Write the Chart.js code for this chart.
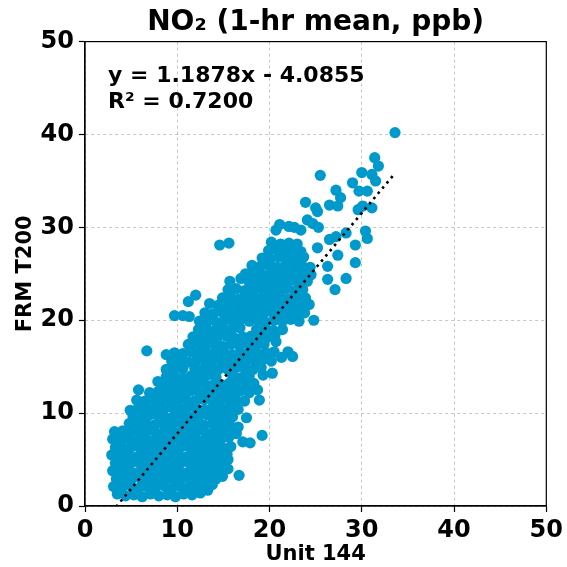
<!DOCTYPE html>
<html>
<head>
<meta charset="utf-8">
<script src="https://cdn.jsdelivr.net/npm/chart.js@4.4.0/dist/chart.umd.min.js"></script>
<style>
  html, body { margin: 0; padding: 0; background: #fff; }
  #wrap { width: 567px; height: 567px; }
</style>
</head>
<body>
<div id="wrap"><canvas id="no2Chart" width="567" height="567"></canvas></div>
<script>
// Punkte [Unit 144, FRM T200] in ppb, nach Bereichen gruppiert
const lowBand = [
  [3.5,1.3],[4.4,1.1],[5.3,1.2],[6.2,1.0],[7.1,1.3],[8.0,1.1],[8.9,1.2],[9.8,1.0],[10.7,1.3],[11.6,1.2],[12.5,1.4],[13.3,1.7],
  [3.1,2.1],[4.0,2.0],[4.9,2.2],[5.8,1.9],[6.7,2.1],[7.6,2.0],[8.5,2.2],[9.4,1.9],[10.3,2.1],[11.2,2.0],[12.1,2.2],[13.0,2.0],[13.8,2.3],
  [3.4,2.9],[4.3,2.8],[5.2,3.0],[6.1,2.9],[7.0,2.8],[7.9,3.0],[8.8,2.9],[9.7,2.8],[10.6,3.0],[11.5,2.9],[12.4,2.8],[13.3,3.0],[14.2,2.9],[14.9,3.2],[16.7,3.3],
  [3.0,3.8],[3.9,3.7],[4.8,3.8],[5.7,3.6],[6.6,3.8],[7.5,3.7],[8.4,3.9],[9.3,3.7],[10.2,3.8],[11.1,3.6],[12.0,3.8],[12.9,3.7],[13.8,3.9],[14.7,3.8],[15.5,4.0],
  [3.3,4.6],[4.2,4.5],[5.1,4.7],[6.0,4.6],[6.9,4.5],[7.8,4.7],[8.7,4.6],[9.6,4.5],[10.5,4.7],[11.4,4.6],[12.3,4.5],[13.2,4.7],[14.1,4.6],[15.0,4.5],[15.5,5.0],
  [2.9,5.5],[3.8,5.4],[4.7,5.5],[5.6,5.3],[6.5,5.5],[7.4,5.4],[8.3,5.6],[9.2,5.4],[10.1,5.5],[11.0,5.3],[11.9,5.5],[12.8,5.4],[13.7,5.6],[14.6,5.4],[15.4,5.6],
  [3.3,6.3],[4.2,6.2],[5.1,6.4],[6.0,6.3],[6.9,6.2],[7.8,6.4],[8.7,6.3],[9.6,6.2],[10.5,6.4],[11.4,6.3],[12.3,6.2],[13.2,6.4],[14.1,6.3],[15.0,6.2],[15.8,6.4],[17.1,6.9],[17.9,6.8],
  [3.0,7.2],[3.9,7.1],[4.8,7.2],[5.7,7.0],[6.6,7.2],[7.5,7.1],[8.4,7.3],[9.3,7.1],[10.2,7.2],[11.1,7.0],[12.0,7.2],[12.9,7.1],[13.8,7.3],[14.7,7.1],[15.6,7.4],[16.4,7.8],[19.2,7.6],
  [3.2,8.0],[4.1,8.1],[5.0,7.9],[5.9,8.0],[6.8,8.1],[7.7,7.9],[8.6,8.0],[9.5,8.1],[10.4,7.9],[11.3,8.0],[12.2,8.1],[13.1,7.9],[14.0,8.0],[14.9,8.1],[15.8,8.3],[16.6,8.5],
  [4.8,8.9],[5.7,8.8],[6.6,8.9],[7.5,8.7],[8.4,8.9],[9.3,8.8],[10.2,9.0],[11.1,8.8],[12.0,8.9],[12.9,8.7],[13.8,8.9],[14.7,8.8],[15.6,9.0]
];

const midBand = [
  [5.2,9.7],[6.1,9.6],[7.0,9.8],[7.9,9.7],[8.8,9.5],[9.7,9.7],[10.6,9.8],[11.5,9.6],[12.4,9.7],[13.3,9.8],[14.2,9.6],[15.1,9.7],[16.0,9.6],[17.5,9.5],
  [4.9,10.3],[5.8,10.6],[6.7,10.5],[7.6,10.6],[8.5,10.4],[9.4,10.6],[10.3,10.5],[11.2,10.7],[12.1,10.5],[13.0,10.4],[13.9,10.6],[14.8,10.5],[15.7,10.6],[16.6,10.4],
  [5.6,11.4],[6.5,11.3],[7.4,11.5],[8.3,11.4],[9.2,11.3],[10.1,11.5],[11.0,11.4],[11.9,11.3],[12.8,11.5],[13.7,11.4],[14.6,11.3],[15.5,11.5],[16.4,11.4],[17.3,11.3],[18.9,11.4],
  [5.8,12.5],[7.0,12.2],[7.9,12.3],[8.8,12.1],[9.7,12.3],[10.6,12.2],[11.5,12.4],[12.4,12.2],[13.3,12.3],[14.2,12.1],[15.1,12.3],[16.0,12.2],[16.9,12.4],[17.8,12.2],[18.7,12.5],
  [7.9,13.4],[8.4,13.0],[9.3,13.1],[10.2,13.2],[11.1,13.0],[12.0,13.1],[12.9,13.2],[13.8,13.0],[14.7,13.1],[15.6,13.2],[16.5,13.0],[17.4,13.1],[18.3,13.2],
  [8.8,13.9],[9.7,14.0],[10.6,13.8],[11.5,14.0],[12.4,13.9],[13.3,14.1],[14.2,13.9],[16.0,14.0],[16.9,13.8],[17.8,14.0],[19.3,14.1],[20.3,14.3],
  [8.8,14.7],[9.7,14.9],[10.6,14.8],[11.9,14.8],[12.8,14.7],[13.7,14.9],[14.6,14.8],[15.5,14.7],[16.4,14.9],[17.3,14.8],[18.2,14.7],[19.1,14.9],
  [9.4,15.6],[10.3,15.7],[11.2,15.5],[12.1,15.7],[13.0,15.6],[13.9,15.8],[14.8,15.6],[15.7,15.7],[16.6,15.5],[17.5,15.7],[18.4,15.6],[19.3,15.8],[20.2,15.6],
  [6.7,16.7],[8.8,16.3],[9.7,16.5],[10.6,16.4],[11.5,16.6],[12.4,16.5],[13.3,16.4],[14.2,16.6],[15.1,16.5],[16.0,16.3],[16.9,16.5],[17.8,16.6],[18.7,16.4],[19.6,16.5],[20.5,16.6],[21.3,16.0],[22.0,16.6],[22.5,16.1],
  [11.2,17.4],[12.2,17.5],[13.1,17.3],[14.0,17.4],[14.9,17.2],[15.8,17.4],[16.7,17.3],[17.6,17.5],[18.5,17.3],[19.4,17.4],[20.7,17.7],
  [11.7,18.2],[12.6,18.3],[13.5,18.1],[14.4,18.2],[15.3,18.3],[16.2,18.1],[17.1,18.2],[18.0,18.3],[18.9,18.1],[19.8,18.2],[20.6,18.4],
  [12.3,19.0],[13.2,19.1],[14.1,18.9],[15.0,19.1],[15.9,19.0],[16.8,19.2],[18.6,19.0],[19.5,19.1],[20.4,18.9],[21.4,19.0],
  [9.7,20.5],[10.6,20.5],[11.3,20.4],[12.4,19.9],[13.3,20.0],[14.2,19.8],[15.1,20.0],[16.0,19.9],[16.9,20.1],[17.8,19.9],[18.7,20.0],[19.6,19.8],[20.5,20.0],[21.4,19.9],[22.3,20.1],[23.2,19.9],[24.8,20.0]
];

const upperBand = [
  [13.0,20.8],[13.9,20.7],[14.8,20.9],[15.7,20.7],[16.6,20.8],[17.5,20.6],[18.4,20.8],[19.3,20.7],[20.2,20.9],[21.1,20.7],[22.0,20.8],[22.9,20.6],[23.8,20.8],
  [11.2,22.0],[13.5,21.8],[14.4,21.6],[15.3,21.5],[16.2,21.7],[17.1,21.6],[18.0,21.5],[18.9,21.7],[19.8,21.6],[20.7,21.5],[21.6,21.7],[22.5,21.6],[23.4,21.5],[24.3,21.7],
  [12.0,22.7],[14.9,22.4],[15.8,22.5],[16.7,22.3],[17.6,22.5],[18.5,22.4],[19.4,22.6],[20.3,22.4],[21.2,22.5],[22.1,22.3],[23.0,22.5],[23.9,22.4],
  [15.5,23.3],[16.4,23.4],[17.3,23.2],[18.2,23.3],[19.1,23.4],[20.0,23.2],[20.9,23.3],[21.8,23.4],[22.7,23.2],[23.6,23.3],[27.1,23.3],
  [15.7,24.2],[16.9,24.5],[17.8,24.1],[18.7,24.2],[19.6,24.0],[20.5,24.2],[21.4,24.1],[22.3,24.3],[23.2,24.1],[24.1,24.2],[26.3,24.4],[28.3,24.5],
  [17.4,25.0],[18.3,25.1],[19.2,24.9],[20.1,25.0],[21.0,25.1],[21.9,24.9],[22.8,25.0],[23.7,25.1],[24.5,24.9],[26.3,25.8],
  [18.1,25.9],[19.0,25.8],[19.9,25.9],[20.8,25.7],[21.7,25.9],[22.6,25.8],[23.5,25.9],[24.4,25.7],[29.3,26.2],
  [19.2,26.7],[20.1,26.6],[21.0,26.8],[21.9,26.7],[22.8,26.6],[23.7,26.8],[27.4,27.0],
  [19.9,27.5],[20.8,27.6],[21.7,27.5],[22.6,27.6],[23.4,27.4],[25.2,27.8],
  [14.6,28.1],[15.6,28.3],[20.2,28.4],[21.2,28.2],[22.1,28.3],[23.0,28.2],[26.5,28.7],[27.2,29.0],[28.3,29.4],[29.3,28.1],[30.6,28.8],
  [20.7,29.7],[21.1,30.3],[22.1,30.1],[22.7,30.0],[23.4,29.7],[24.1,30.8],[24.7,30.4],[25.3,30.0],[30.4,29.6]
];

const topBand = [
  [25.2,31.7],[23.9,32.7],[25.0,32.1],[26.5,32.4],[27.4,32.3],[29.6,31.9],[30.1,32.3],[31.1,32.1],
  [27.7,33.2],[27.2,34.0],[29.7,33.9],[30.6,33.9],[29.0,34.8],[31.5,35.0],[25.5,35.6],
  [30.0,35.9],[31.1,35.7],[31.4,37.5],[31.8,36.6],[33.6,40.2]
];

// Regression (aus der Vorlage)
const slope = 1.1878;
const intercept = -4.0855;
const rSquared = 0.7200;

const xTickValues = [0, 10, 20, 30, 40, 50];
const yTickValues = [0, 10, 20, 30, 40, 50];

const FONT = "'DejaVu Sans', 'Liberation Sans', sans-serif";
const DOT_COLOR = '#0099cc';

const allPoints = [...lowBand, ...midBand, ...upperBand, ...topBand].map(p => ({ x: p[0], y: p[1] }));

// Trendlinie über den Wertebereich der Punkte
const xs = allPoints.map(p => p.x);
const xMin = Math.min(...xs);
const xMax = Math.max(...xs);
const trendPoints = [
    { x: xMin, y: slope * xMin + intercept },
    { x: xMax, y: slope * xMax + intercept }
];

// Gleichung + Rahmen zeichnen
const annotationPlugin = {
    id: 'fitAnnotation',
    afterDraw(chart) {
        const { ctx, chartArea: a } = chart;
        ctx.save();
        ctx.strokeStyle = '#000';
        ctx.lineWidth = 1.2;
        ctx.strokeRect(a.left, a.top, a.right - a.left, a.bottom - a.top);

        ctx.fillStyle = '#000';
        ctx.font = 'bold 22px ' + FONT;
        ctx.textAlign = 'left';
        ctx.textBaseline = 'alphabetic';
        const tx = a.left + 0.05 * (a.right - a.left);
        const sign = intercept < 0 ? '-' : '+';
        ctx.fillText('y = ' + slope.toFixed(4) + 'x ' + sign + ' ' + Math.abs(intercept).toFixed(4), tx, a.top + 40);
        ctx.fillText('R² = ' + rSquared.toFixed(4), tx, a.top + 66);
        ctx.restore();
    }
};

function axisOptions(tickValues, titleText, isX) {
    return {
        type: 'linear',
        min: 0,
        max: 50,
        afterBuildTicks: s => { s.ticks = tickValues.map(v => ({ value: v })); },
        afterFit: s => {
            if (isX) s.height = 61; else s.width = 85;
        },
        ticks: {
            color: '#000',
            font: { family: FONT, size: 24, weight: 'bold' },
            padding: isX ? 4 : 5,
            maxRotation: 0,
            autoSkip: false
        },
        grid: {
            color: '#b8b8b8',
            lineWidth: 0.8,
            tickColor: '#000',
            tickLength: 6,
            tickWidth: 1.2
        },
        border: { display: true, color: '#000', width: 1.2, dash: [3, 3] },
        title: {
            display: true,
            text: titleText,
            color: '#000',
            font: { family: FONT, size: 21, weight: 'bold' },
            padding: isX ? { top: 0, bottom: 0 } : { top: 13, bottom: 0 }
        }
    };
}

const ctx = document.getElementById('no2Chart').getContext('2d');
new Chart(ctx, {
    type: 'scatter',
    data: {
        datasets: [
            {
                label: 'Trend',
                data: trendPoints,
                showLine: true,
                borderColor: '#000',
                borderWidth: 2.6,
                borderDash: [2.6, 4.2],
                pointRadius: 0,
                fill: false,
                order: 0
            },
            {
                label: 'NO2',
                data: allPoints,
                backgroundColor: DOT_COLOR,
                borderColor: DOT_COLOR,
                borderWidth: 0,
                pointRadius: 5.6,
                pointHoverRadius: 5.6,
                order: 1
            }
        ]
    },
    options: {
        responsive: false,
        animation: false,
        devicePixelRatio: 1,
        layout: { padding: { left: 0, right: 19, top: 0, bottom: 0 } },
        plugins: {
            legend: { display: false },
            tooltip: { enabled: false },
            title: {
                display: true,
                text: 'NO₂ (1-hr mean, ppb)',
                color: '#000',
                fullSize: false,
                font: { family: FONT, size: 28, weight: 'bold' },
                padding: { top: 6, bottom: 2 }
            }
        },
        scales: {
            x: axisOptions(xTickValues, 'Unit 144', true),
            y: axisOptions(yTickValues, 'FRM T200', false)
        }
    },
    plugins: [annotationPlugin]
});
</script>
</body>
</html>
